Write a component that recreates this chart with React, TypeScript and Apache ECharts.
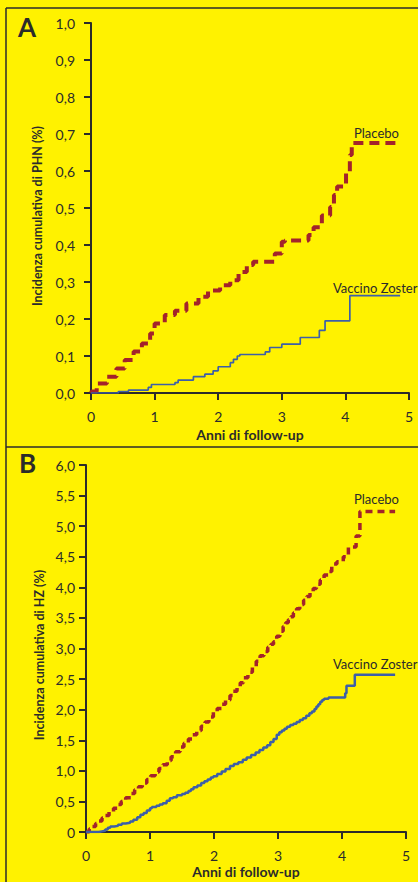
import React, { useEffect, useRef } from 'react';
import * as echarts from 'echarts';

// Panel A: cumulative incidence of PHN (%)
const phnPlacebo: [number, number][] = [
  [0, 0], [0.01, 0.004], [0.09, 0.026], [0.25, 0.044], [0.4, 0.066], [0.53, 0.089], [0.67, 0.112],
  [0.8, 0.134], [0.93, 0.161], [1.0, 0.188], [1.16, 0.211], [1.32, 0.222], [1.5, 0.242],
  [1.69, 0.26], [1.84, 0.277], [2.03, 0.291], [2.19, 0.305], [2.32, 0.327], [2.45, 0.346],
  [2.55, 0.355], [2.89, 0.377], [3.0, 0.409], [3.05, 0.412], [3.42, 0.427], [3.5, 0.448],
  [3.63, 0.48], [3.76, 0.503], [3.82, 0.535], [3.87, 0.558], [4.01, 0.594], [4.07, 0.643],
  [4.1, 0.676], [4.86, 0.676],
];
const phnVaccine: [number, number][] = [
  [0, 0], [0.43, 0.004], [0.59, 0.008], [0.9, 0.015], [0.95, 0.023], [1.32, 0.028],
  [1.37, 0.035], [1.61, 0.044], [1.79, 0.051], [1.92, 0.06], [2.0, 0.071], [2.19, 0.082],
  [2.24, 0.091], [2.3, 0.1], [2.34, 0.104], [2.74, 0.111], [2.81, 0.123], [3.0, 0.132],
  [3.29, 0.15], [3.59, 0.169], [3.68, 0.195], [4.07, 0.263], [4.86, 0.263],
];

// Panel B: cumulative incidence of HZ (%)
const hzPlacebo: [number, number][] = [
  [0, 0], [0.05, 0.05], [0.1, 0.09], [0.15, 0.14], [0.2, 0.18], [0.25, 0.23], [0.3, 0.27],
  [0.36, 0.33], [0.43, 0.39], [0.49, 0.45], [0.55, 0.5], [0.62, 0.56], [0.7, 0.63],
  [0.76, 0.69], [0.82, 0.74], [0.88, 0.8], [0.95, 0.86], [1.01, 0.92], [1.08, 0.98],
  [1.14, 1.04], [1.2, 1.1], [1.27, 1.17], [1.33, 1.23], [1.4, 1.31], [1.47, 1.39],
  [1.53, 1.45], [1.6, 1.52], [1.66, 1.59], [1.73, 1.66], [1.8, 1.73], [1.86, 1.8],
  [1.92, 1.88], [1.99, 1.96], [2.05, 2.02], [2.12, 2.09], [2.18, 2.16], [2.25, 2.23],
  [2.3, 2.3], [2.36, 2.37], [2.41, 2.44], [2.46, 2.52], [2.53, 2.61], [2.6, 2.7],
  [2.66, 2.79], [2.72, 2.88], [2.78, 2.95], [2.84, 3.02], [2.89, 3.07], [2.93, 3.11],
  [2.98, 3.2], [3.03, 3.28], [3.08, 3.36], [3.12, 3.42], [3.16, 3.47], [3.2, 3.52],
  [3.24, 3.58], [3.29, 3.65], [3.34, 3.72], [3.4, 3.79], [3.45, 3.85], [3.5, 3.92],
  [3.55, 3.98], [3.6, 4.05], [3.66, 4.12], [3.72, 4.2], [3.79, 4.26], [3.84, 4.38],
  [3.92, 4.42], [4.02, 4.5], [4.1, 4.66], [4.22, 4.84], [4.28, 5.24], [4.83, 5.24],
];
const hzVaccine: [number, number][] = [
  [0, 0], [0.2, 0.01], [0.25, 0.02], [0.3, 0.04], [0.34, 0.07], [0.38, 0.09], [0.44, 0.1],
  [0.5, 0.12], [0.56, 0.14], [0.62, 0.15], [0.69, 0.17], [0.74, 0.2], [0.8, 0.24],
  [0.85, 0.28], [0.9, 0.31], [0.95, 0.35], [1.0, 0.39], [1.03, 0.41], [1.1, 0.43],
  [1.15, 0.45], [1.2, 0.47], [1.26, 0.51], [1.31, 0.55], [1.36, 0.57], [1.42, 0.6],
  [1.5, 0.62], [1.55, 0.64], [1.6, 0.67], [1.64, 0.7], [1.68, 0.73], [1.74, 0.76],
  [1.8, 0.8], [1.85, 0.83], [1.9, 0.86], [1.95, 0.89], [1.99, 0.91], [2.05, 0.95],
  [2.12, 0.99], [2.18, 1.03], [2.25, 1.08], [2.31, 1.11], [2.38, 1.14], [2.45, 1.18],
  [2.51, 1.22], [2.58, 1.26], [2.65, 1.3], [2.71, 1.34], [2.77, 1.38], [2.83, 1.42],
  [2.88, 1.47], [2.93, 1.52], [2.98, 1.59], [3.02, 1.63], [3.06, 1.66], [3.1, 1.69],
  [3.14, 1.72], [3.19, 1.75], [3.24, 1.77], [3.29, 1.8], [3.34, 1.83], [3.39, 1.86],
  [3.44, 1.9], [3.49, 1.94], [3.53, 1.97], [3.57, 2.01], [3.6, 2.05], [3.63, 2.09],
  [3.66, 2.13], [3.69, 2.16], [3.72, 2.18], [3.79, 2.2], [4.05, 2.27], [4.07, 2.39],
  [4.2, 2.57], [4.83, 2.57],
];

const xTicks = [0, 1, 2, 3, 4, 5];
const seriesNames = ['Placebo', 'Vaccino Zoster'];
const panelLetters = ['A', 'B'];
const yAxisTitles = ['Incidenza cumulativa di PHN (%)', 'Incidenza cumulativa di HZ (%)'];
const xAxisTitle = 'Anni di follow-up';

const BG = '#fff200';
const INK = '#2b2b2b';
const RED = '#a3232b';
const BLUE = '#3d5fa8';
const FONT = 'Lato, "Open Sans", sans-serif';

export default function App() {
  const ref = useRef<HTMLDivElement>(null);
  useEffect(() => {
    document.body.style.margin = '0';
    document.body.style.background = BG;
    const chart = echarts.init(ref.current!, null, { renderer: 'svg' });
    const axisLine = { show: true, lineStyle: { color: INK, width: 2 } };
    const axisTick = { show: true, length: 7, lineStyle: { color: INK, width: 2 } };
    const label = { color: INK, fontFamily: FONT, fontSize: 14 };
    const fmtA = (v: number) => v.toFixed(1).replace('.', ',');
    const fmtB = (v: number) => (v === 0 ? '0' : v.toFixed(1).replace('.', ','));
    const txt = (text: string, x: number, y: number, o: any = {}) => ({
      type: 'text', x, y, rotation: o.rotation || 0,
      style: {
        text, fill: INK, fontFamily: FONT, fontSize: o.fontSize || 13,
        fontWeight: o.fontWeight || 'normal', align: o.align || 'center', verticalAlign: 'middle',
      },
    });
    chart.setOption({
      animation: false,
      backgroundColor: BG,
      grid: [
        { left: 91, top: 23, width: 318, height: 370 },
        { left: 86, top: 465, width: 320, height: 367 },
      ],
      xAxis: [0, 1].map((i) => ({
        type: 'value', gridIndex: i, min: 0, max: 5, interval: 1,
        axisLine, axisTick, splitLine: { show: false },
        axisLabel: { ...label, margin: 16, formatter: (v: number) => (xTicks.includes(v) ? String(v) : '') },
      })),
      yAxis: [
        {
          type: 'value', gridIndex: 0, min: 0, max: 1, interval: 0.1,
          axisLine, axisTick, splitLine: { show: false },
          axisLabel: { ...label, margin: 16, formatter: fmtA },
        },
        {
          type: 'value', gridIndex: 1, min: 0, max: 6, interval: 0.5,
          axisLine, axisTick, splitLine: { show: false },
          axisLabel: { ...label, margin: 11, formatter: fmtB },
        },
      ],
      series: [
        {
          name: seriesNames[0], type: 'line', step: 'end', xAxisIndex: 0, yAxisIndex: 0,
          data: phnPlacebo, showSymbol: false, z: 3,
          lineStyle: { color: RED, width: 4, type: [10, 6] },
        },
        {
          name: seriesNames[1], type: 'line', step: 'end', xAxisIndex: 0, yAxisIndex: 0,
          data: phnVaccine, showSymbol: false, z: 4,
          lineStyle: { color: BLUE, width: 1.7 },
        },
        {
          name: seriesNames[0], type: 'line', step: 'end', xAxisIndex: 1, yAxisIndex: 1,
          data: hzPlacebo, showSymbol: false, z: 3,
          lineStyle: { color: RED, width: 3.5, type: [7, 5] },
        },
        {
          name: seriesNames[1], type: 'line', step: 'end', xAxisIndex: 1, yAxisIndex: 1,
          data: hzVaccine, showSymbol: false, z: 4,
          lineStyle: { color: BLUE, width: 2.5 },
        },
      ],
      graphic: [
        { type: 'line', shape: { x1: 6, y1: 8, x2: 6, y2: 882 }, style: { stroke: INK, lineWidth: 1.5 } },
        { type: 'line', shape: { x1: 6, y1: 8, x2: 418, y2: 8 }, style: { stroke: INK, lineWidth: 1.5 } },
        { type: 'line', shape: { x1: 6, y1: 447, x2: 418, y2: 447 }, style: { stroke: INK, lineWidth: 1.5 } },
        txt(panelLetters[0], 27, 27, { fontSize: 26, fontWeight: 'bold' }),
        txt(panelLetters[1], 27.5, 463, { fontSize: 26, fontWeight: 'bold' }),
        txt(yAxisTitles[0], 37, 216, { rotation: Math.PI / 2, fontWeight: 'bold', fontSize: 12.5 }),
        txt(yAxisTitles[1], 39, 655, { rotation: Math.PI / 2, fontWeight: 'bold', fontSize: 12.5 }),
        txt(xAxisTitle, 250, 434, { fontWeight: 'bold', fontSize: 14 }),
        txt(xAxisTitle, 246, 871, { fontWeight: 'bold', fontSize: 14 }),
        txt(seriesNames[0], 354, 133, { align: 'left' }),
        txt(seriesNames[1], 333, 288, { align: 'left' }),
        txt(seriesNames[0], 354, 499, { align: 'left' }),
        txt(seriesNames[1], 333, 664, { align: 'left' }),
      ],
    });
    return () => chart.dispose();
  }, []);
  return <div ref={ref} style={{ position: 'absolute', left: 0, top: 0, width: 418, height: 882 }} />;
}
